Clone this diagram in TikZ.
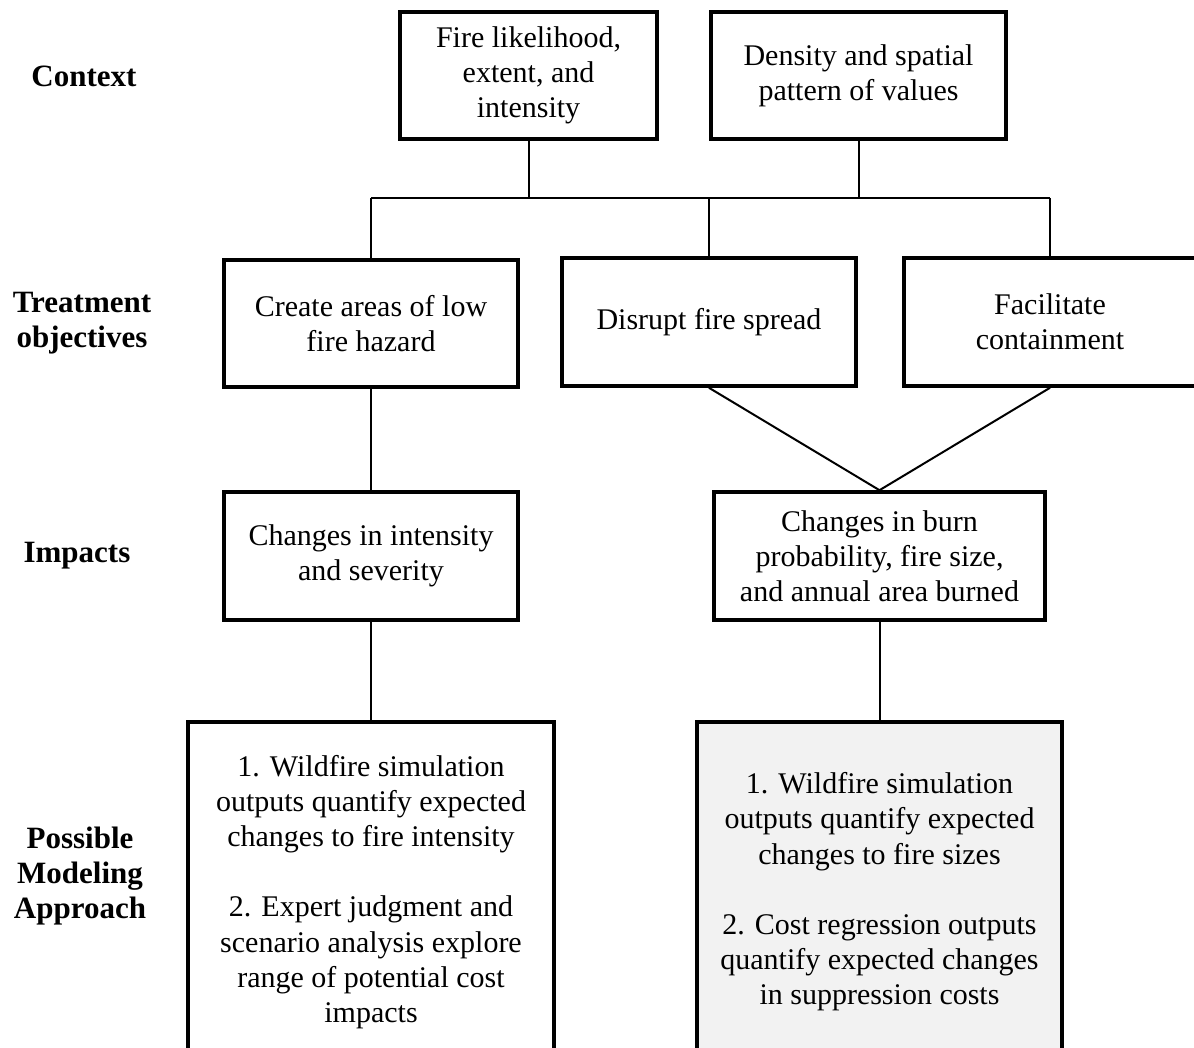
\documentclass[tikz,border=0pt]{standalone}
\usepackage{fontspec}
\setmainfont{Liberation Serif}

\begin{document}
\begin{tikzpicture}[x=0.5pt, y=-0.5pt,
  box/.style={draw, line width=1.8pt, inner sep=0pt, align=center,
    font=\fontsize{15}{17.6}\selectfont},
  lbl/.style={align=center, font=\fontsize{15.5}{17.6}\selectfont\bfseries},
  link/.style={line width=1pt}]

  \useasboundingbox (0,0) rectangle (1194,1048);
  \clip (0,0) rectangle (1194,1048);

  \node [lbl] (context) at (84, 76) {Context};
  \node [lbl] (treat) at (82, 323) {Treatment\\objectives};
  \node [lbl] (impacts) at (77, 556) {Impacts};
  \node [lbl] (approach) at (80, 876) {Possible\\Modeling\\Approach};

  \node [box, minimum width=128.5pt, minimum height=63.5pt] (likely) at (528.5, 75.5) {Fire likelihood,\\extent, and\\intensity};
  \node [box, minimum width=147.5pt, minimum height=63.5pt] (values) at (858.5, 75.5) {Density and spatial\\pattern of values};

  \node [box, minimum width=147pt, minimum height=63.5pt] (hazard) at (371, 323.5) {Create areas of low\\fire hazard};
  \node [box, minimum width=147pt, minimum height=64pt] (spread) at (709, 322) {Disrupt fire spread};
  \node [box, minimum width=146pt, minimum height=64pt] (contain) at (1050, 322) {Facilitate\\containment};

  \node [box, minimum width=147pt, minimum height=64pt] (severity) at (371, 556) {Changes in intensity\\and severity};
  \node [box, minimum width=165.5pt, minimum height=64pt] (burned) at (879.5, 556) {Changes in burn\\probability, fire size,\\and annual area burned};

  \node [box, minimum width=183pt, minimum height=170pt] (modelL) at (371, 892) {1. Wildfire simulation\\outputs quantify expected\\changes to fire intensity\\[17.6pt]2. Expert judgment and\\scenario analysis explore\\range of potential cost\\impacts};
  \node [box, fill=black!5, minimum width=182.5pt, minimum height=170pt] (modelR) at (879.5, 892) {1. Wildfire simulation\\outputs quantify expected\\changes to fire sizes\\[17.6pt]2. Cost regression outputs\\quantify expected changes\\in suppression costs};

  \coordinate (busL) at (371, 198);
  \coordinate (busR) at (1050, 198);

  \draw [link] (busL) -- (busR);
  \draw [link] (likely) -- (likely.south |- busL);
  \draw [link] (values) -- (values.south |- busL);
  \draw [link] (busL) -- (hazard);
  \draw [link] (spread.north |- busL) -- (spread);
  \draw [link] (busR) -- (contain);

  \draw [link] (hazard) -- (severity);
  \draw [link] (spread.south) -- (burned.north);
  \draw [link] (contain.south) -- (burned.north);

  \draw [link] (severity) -- (modelL);
  \draw [link] (burned) -- (modelR);

\end{tikzpicture}
\end{document}
